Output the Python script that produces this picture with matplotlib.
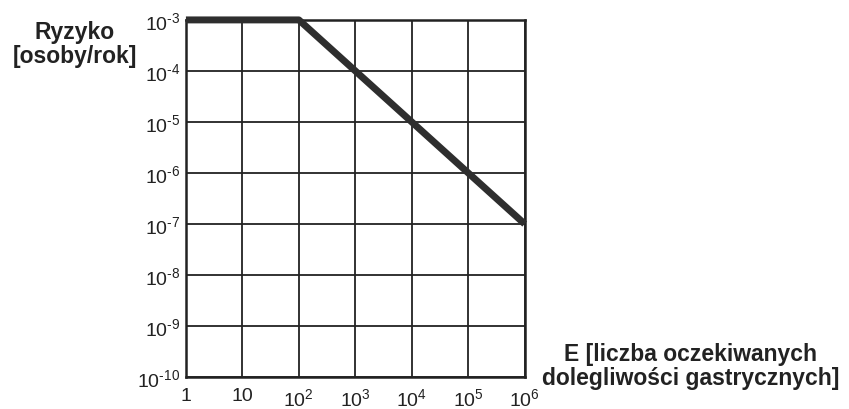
import matplotlib.pyplot as plt
from matplotlib.ticker import FixedLocator, FixedFormatter, NullLocator

plt.rcParams['font.family'] = ['Liberation Sans', 'DejaVu Sans']
plt.rcParams['mathtext.fontset'] = 'custom'
plt.rcParams['mathtext.rm'] = 'Liberation Sans'
plt.rcParams['mathtext.it'] = 'Liberation Sans'

# dane
E = [1, 1e2, 1e6]
ryzyko = [1e-3, 1e-3, 1e-7]

x_ticks = [1, 1e1, 1e2, 1e3, 1e4, 1e5, 1e6]
x_labels = ['1', '10', r'10$^{\text{2}}$', r'10$^{\text{3}}$', r'10$^{\text{4}}$',
            r'10$^{\text{5}}$', r'10$^{\text{6}}$']
y_ticks = [1e-10, 1e-9, 1e-8, 1e-7, 1e-6, 1e-5, 1e-4, 1e-3]
y_labels = [r'10$^{\text{-10}}$', r'10$^{\text{-9}}$', r'10$^{\text{-8}}$',
            r'10$^{\text{-7}}$', r'10$^{\text{-6}}$', r'10$^{\text{-5}}$',
            r'10$^{\text{-4}}$', r'10$^{\text{-3}}$']

fig = plt.figure(figsize=(8.49, 4.10), dpi=100)
ax = fig.add_axes([0.219, 0.078, 0.399, 0.871])

ax.plot(E, ryzyko, color='#2e2e2e', lw=5, solid_capstyle='butt', zorder=5, clip_on=False)

ax.set_xscale('log')
ax.set_yscale('log')
ax.set_xlim(1, 1e6)
ax.set_ylim(1e-10, 1e-3)

ax.xaxis.set_major_locator(FixedLocator(x_ticks))
ax.xaxis.set_major_formatter(FixedFormatter(x_labels))
ax.yaxis.set_major_locator(FixedLocator(y_ticks))
ax.yaxis.set_major_formatter(FixedFormatter(y_labels))
ax.xaxis.set_minor_locator(NullLocator())
ax.yaxis.set_minor_locator(NullLocator())

ax.tick_params(length=0, labelsize=14, colors='#222222', pad=4)
ax.tick_params(axis='x', pad=7)
ax.grid(True, color='#222222', lw=1.3)
for s in ax.spines.values():
    s.set_linewidth(1.8)
    s.set_color('#222222')

fig.text(0.088, 0.892, 'Ryzyko\n[osoby/rok]', ha='center', va='center',
         fontsize=16.5, fontweight='bold', color='#222222', linespacing=1.05)
fig.text(0.813, 0.107, 'E [liczba oczekiwanych\ndolegliwości gastrycznych]',
         ha='center', va='center', fontsize=16.5, fontweight='bold',
         color='#222222', linespacing=1.05)

fig.savefig('out.png', dpi=100)
